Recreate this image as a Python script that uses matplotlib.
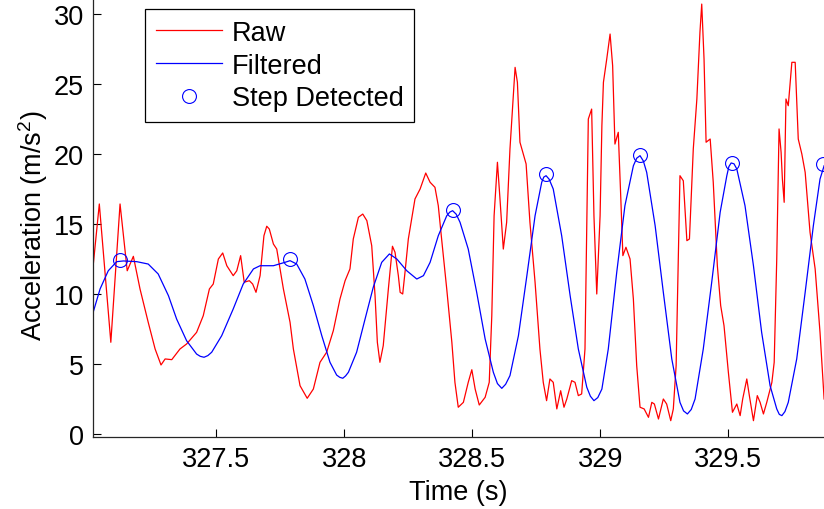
import matplotlib
matplotlib.use('Agg')
import matplotlib.pyplot as plt

plt.rcParams['font.family'] = ['Liberation Sans', 'DejaVu Sans']
plt.rcParams['mathtext.default'] = 'regular'

# raw accelerometer magnitude (s, m/s^2)
raw_t = [327.017, 327.043, 327.088, 327.124, 327.152, 327.176, 327.202, 327.234, 327.261, 327.284,
         327.300, 327.326, 327.358, 327.384, 327.423, 327.449, 327.473, 327.488, 327.508, 327.525,
         327.541, 327.566, 327.580, 327.595, 327.609, 327.629, 327.642, 327.655, 327.671, 327.686,
         327.697, 327.707, 327.723, 327.736, 327.762, 327.788, 327.801, 327.827, 327.855, 327.879,
         327.905, 327.931, 327.957, 327.983, 328.003, 328.022, 328.035, 328.055, 328.072, 328.088,
         328.107, 328.120, 328.129, 328.139, 328.152, 328.172, 328.188, 328.198, 328.211, 328.218,
         328.228, 328.237, 328.250, 328.276, 328.296, 328.318, 328.335, 328.354, 328.367, 328.380,
         328.400, 328.420, 328.432, 328.445, 328.465, 328.484, 328.498, 328.511, 328.527, 328.550,
         328.566, 328.576, 328.585, 328.598, 328.608, 328.621, 328.634, 328.647, 328.667, 328.676,
         328.686, 328.710, 328.725, 328.745, 328.764, 328.777, 328.790, 328.803, 328.816, 328.830,
         328.845, 328.858, 328.869, 328.888, 328.901, 328.914, 328.927, 328.940, 328.953, 328.966,
         328.975, 328.986, 328.999, 329.006, 329.012, 329.025, 329.038, 329.048, 329.057, 329.070,
         329.080, 329.088, 329.100, 329.116, 329.129, 329.142, 329.155, 329.171, 329.188, 329.201,
         329.211, 329.227, 329.246, 329.259, 329.275, 329.285, 329.296, 329.311, 329.324, 329.338,
         329.348, 329.363, 329.377, 329.389, 329.396, 329.405, 329.413, 329.429, 329.441, 329.457,
         329.470, 329.483, 329.500, 329.516, 329.533, 329.546, 329.556, 329.572, 329.582, 329.598,
         329.613, 329.624, 329.637, 329.650, 329.670, 329.679, 329.689, 329.698, 329.706, 329.711,
         329.718, 329.725, 329.734, 329.748, 329.761, 329.773, 329.787, 329.800, 329.819, 329.839,
         329.858, 329.874]
raw_a = [11.66, 16.43, 6.55, 16.43, 11.66, 12.69, 10.36, 7.98, 6.07, 4.93,
         5.36, 5.31, 6.07, 6.43, 7.26, 8.45, 10.36, 10.71, 12.50, 12.93,
         12.02, 11.31, 11.66, 12.74, 10.84, 10.95, 10.71, 10.12, 11.31, 14.16,
         14.84, 14.64, 13.57, 13.21, 10.36, 7.98, 6.07, 3.45, 2.55, 3.21,
         5.12, 5.84, 7.38, 9.64, 10.95, 11.79, 13.93, 15.48, 15.71, 15.24,
         13.45, 9.88, 6.55, 5.12, 6.31, 10.36, 13.41, 12.98, 11.31, 10.12,
         10.00, 11.55, 13.93, 16.79, 17.50, 18.64, 17.98, 17.62, 16.31, 13.93,
         10.36, 6.55, 3.69, 1.91, 2.26, 3.69, 4.59, 3.21, 2.07, 2.62,
         3.69, 8.45, 15.59, 19.41, 16.79, 13.21, 15.12, 20.36, 26.19, 25.12,
         20.84, 19.29, 15.12, 10.84, 6.07, 3.69, 2.38, 3.93, 3.69, 1.79,
         3.09, 1.91, 2.50, 3.81, 3.69, 2.74, 2.86, 6.07, 22.50, 23.21,
         15.59, 10.00, 15.59, 22.02, 25.12, 26.79, 28.57, 26.31, 20.71, 21.55,
         16.79, 12.74, 13.34, 12.50, 9.64, 4.88, 1.91, 1.79, 1.19, 2.26,
         2.14, 1.07, 2.50, 2.14, 0.95, 1.79, 4.88, 18.45, 18.09, 13.81,
         13.93, 20.36, 23.93, 28.69, 30.71, 26.79, 20.84, 21.07, 17.98, 12.02,
         9.17, 7.74, 4.41, 1.55, 2.14, 1.31, 2.50, 3.93, 2.74, 0.95,
         2.74, 2.26, 1.43, 2.26, 3.69, 5.12, 12.50, 21.79, 20.12, 18.21,
         16.55, 23.93, 23.45, 26.55, 26.55, 21.07, 20.00, 18.69, 14.41, 11.79,
         7.26, 2.50]

# low-pass filtered signal
filt_t = [327.017, 327.046, 327.078, 327.111, 327.137, 327.189, 327.234, 327.273, 327.313, 327.345,
          327.384, 327.423, 327.437, 327.452, 327.467, 327.482, 327.521, 327.566, 327.605, 327.645,
          327.671, 327.723, 327.768, 327.788, 327.814, 327.846, 327.879, 327.912, 327.944, 327.970,
          327.982, 327.994, 328.005, 328.016, 328.048, 328.081, 328.113, 328.146, 328.176, 328.205,
          328.244, 328.283, 328.309, 328.335, 328.367, 328.400, 328.412, 328.423, 328.437, 328.452,
          328.484, 328.517, 328.550, 328.582, 328.598, 328.615, 328.630, 328.647, 328.680, 328.713,
          328.745, 328.771, 328.779, 328.788, 328.800, 328.816, 328.849, 328.882, 328.914, 328.947,
          328.961, 328.975, 328.990, 329.006, 329.031, 329.064, 329.096, 329.129, 329.142, 329.155,
          329.168, 329.181, 329.214, 329.246, 329.279, 329.311, 329.325, 329.340, 329.355, 329.370,
          329.402, 329.435, 329.468, 329.494, 329.502, 329.511, 329.522, 329.533, 329.565, 329.598,
          329.630, 329.663, 329.689, 329.699, 329.709, 329.721, 329.734, 329.767, 329.800, 329.832,
          329.858, 329.874]
filt_a = [8.57, 10.36, 11.66, 12.31, 12.36, 12.31, 12.14, 11.43, 9.88, 8.21,
          6.66, 5.71, 5.55, 5.48, 5.60, 5.84, 7.02, 8.93, 10.71, 11.79,
          12.02, 12.02, 12.26, 12.38, 12.14, 11.07, 9.17, 7.02, 5.12, 4.21,
          4.05, 3.98, 4.15, 4.41, 5.84, 8.21, 10.48, 12.26, 12.86, 12.50,
          11.66, 11.07, 11.31, 12.26, 14.16, 15.59, 15.85, 15.95, 15.70, 15.12,
          13.21, 10.12, 6.79, 4.41, 3.60, 3.26, 3.55, 4.17, 7.02, 11.31,
          15.59, 17.98, 18.35, 18.45, 18.20, 17.50, 14.16, 9.88, 6.07, 3.34,
          2.70, 2.38, 2.60, 3.21, 6.07, 11.55, 16.31, 19.16, 19.70, 19.88,
          19.50, 18.69, 14.88, 10.12, 5.36, 2.26, 1.65, 1.43, 1.75, 2.50,
          6.07, 10.84, 15.84, 18.45, 19.10, 19.36, 19.30, 18.93, 16.31, 12.02,
          7.26, 3.45, 1.79, 1.40, 1.31, 1.60, 2.26, 5.36, 10.12, 14.88,
          18.21, 19.16]

# detected steps (peaks of filtered signal)
step_t = [327.125, 327.788, 328.425, 328.788, 329.155, 329.513, 329.870]
step_a = [12.43, 12.48, 16.02, 18.54, 19.93, 19.39, 19.29]

xtick_vals = [327.5, 328, 328.5, 329, 329.5]
xtick_labels = ['327.5', '328', '328.5', '329', '329.5']
ytick_vals = [0, 5, 10, 15, 20, 25, 30]

W, H = 824, 510
FS = 19.5
fig = plt.figure(figsize=(W / 100, H / 100), dpi=100)
# axes box runs past the right/top edge of the picture (cropped MATLAB figure)
ax = fig.add_axes([92.5 / W, (H - 437.5) / H, (830 - 92.5) / W, (437.5 + 5) / H])

ax.plot(raw_t, raw_a, color='red', lw=0.9, label='Raw')
ax.plot(filt_t, filt_a, color='blue', lw=0.9, label='Filtered')
ax.plot(step_t, step_a, 'o', mfc='none', mec='blue', mew=0.8, ms=10, label='Step Detected')

ax.set_xlim(327.0164, 329.897)
ax.set_ylim(-0.18, 31.43)
ax.set_xticks(xtick_vals)
ax.set_xticklabels(xtick_labels)
ax.set_yticks(ytick_vals)
ax.tick_params(direction='in', length=5.5, width=0.8, labelsize=FS, colors='black')
ax.tick_params(axis='x', pad=6.5)
ax.tick_params(axis='y', pad=6)
for s in ax.spines.values():
    s.set_linewidth(0.9)
    s.set_color('#262626')

fig.text(33 / W, 1 - 226 / H, 'Acceleration (m/s$^2$)', rotation=90,
         ha='center', va='center', fontsize=FS)
fig.text(458 / W, 1 - 493 / H, 'Time (s)', ha='center', va='center', fontsize=FS)

leg = ax.legend(loc='upper left', bbox_to_anchor=(145 / W, 1 - 10 / H),
                bbox_transform=fig.transFigure, borderaxespad=0,
                fontsize=FS, handlelength=2.45, handletextpad=0.35,
                labelspacing=0.25, borderpad=0.4, fancybox=False,
                framealpha=1, edgecolor='black')
leg.get_frame().set_linewidth(0.9)

fig.savefig('out.png', dpi=100)
